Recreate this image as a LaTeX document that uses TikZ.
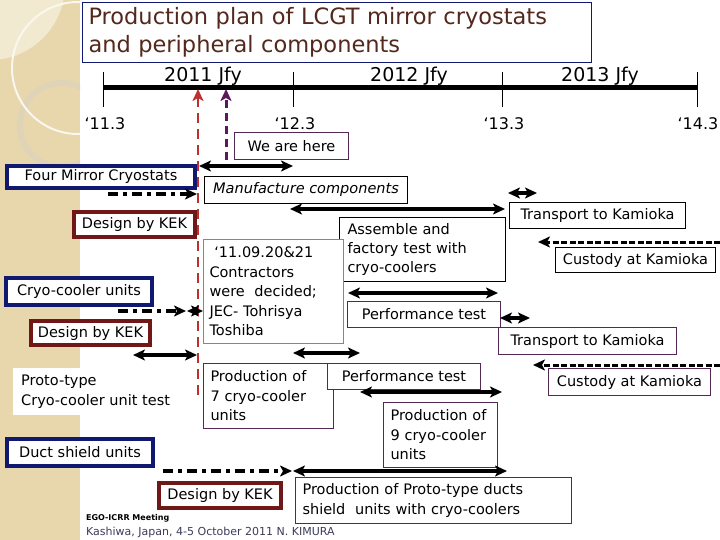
\documentclass[tikz,border=0pt]{standalone}
\usepackage{fontspec}
\setmainfont{DejaVu Sans}
\usetikzlibrary{arrows.meta}
\definecolor{SysBlue}{RGB}{16,24,112}
\definecolor{KekRed}{RGB}{112,24,24}
\definecolor{TaskPurple}{RGB}{84,40,84}
\definecolor{DealRed}{RGB}{204,104,104}
\definecolor{NowRed}{RGB}{190,48,48}
\definecolor{NowPurple}{RGB}{92,24,92}
\definecolor{TitleBrown}{RGB}{84,40,28}
\definecolor{FootGray}{RGB}{60,60,90}
\definecolor{Beige}{RGB}{232,214,172}
\definecolor{RingBeige}{RGB}{224,212,184}
\newcommand{\titlefont}{\fontsize{22.5}{28}\selectfont}
\newcommand{\yearfont}{\fontsize{19}{23}\selectfont}
\newcommand{\tickfont}{\fontsize{16}{19}\selectfont}
\newcommand{\planfont}{\fontsize{14.5}{19.5}\selectfont}
\newcommand{\footfont}{\fontsize{11}{13}\selectfont}
\newcommand{\meetfont}{\bfseries\fontsize{8}{10}\selectfont}
\tikzset{
  sysbox/.style={draw=SysBlue, line width=4pt, fill=white, anchor=north west, inner xsep=6pt, inner ysep=0pt, font=\planfont},
  kekbox/.style={sysbox, draw=KekRed},
  taskbox/.style={draw=TaskPurple, line width=1pt, fill=white, anchor=north west, inner xsep=7pt, inner ysep=0pt, align=left, font=\planfont},
  notebox/.style={taskbox, draw=black},
  span/.style={<->, line width=3.5pt},
  design/.style={->, line width=3.5pt, dash pattern=on 10pt off 5pt on 4pt off 5pt},
  custody/.style={->, line width=3pt, dash pattern=on 6pt off 2.5pt},
}

\begin{document}
\begin{tikzpicture}[x=1pt, y=-1pt, >={Stealth[length=12pt,width=11pt,inset=3pt]}]
  \useasboundingbox (0,0) rectangle (720,540);
  % Side band
  \fill[Beige] (0,0) rectangle (80,540);
  \begin{scope}
    \clip (0,0) rectangle (80,540);
    \fill[Beige!55!white] (-10,-15) circle (75pt);
    \draw[RingBeige, line width=6pt] (62,125) circle (42pt);
    \draw[Beige!20!white, line width=2pt] (78,68) circle (66pt);
  \end{scope}
  % Title
  \node[anchor=north west, draw=SysBlue, line width=1pt, fill=white, minimum width=509pt, minimum height=60pt,
        text width=497pt, inner xsep=6pt, align=left, font=\titlefont, text=TitleBrown] (title) at (82,2)
        {Production plan of LCGT mirror cryostats\\and peripheral components};
  % Time axis
  \foreach \n/\x in {t11/103, t12/293, t13/502, t14/697} {
    \coordinate (\n) at (\x,88);
    \draw[line width=1pt] (\x,72) -- (\x,107);
  }
  \draw[line width=5pt] (t11) -- (t14);
  \node[font=\yearfont, anchor=base] (y11) at (203,82) {2011 Jfy};
  \node[font=\yearfont, anchor=base] (y12) at (409,82) {2012 Jfy};
  \node[font=\yearfont, anchor=base] (y13) at (600,82) {2013 Jfy};
  \node[font=\tickfont, anchor=base] (l11) at (105,130) {‘11.3};
  \node[font=\tickfont, anchor=base] (l12) at (295,130) {‘12.3};
  \node[font=\tickfont, anchor=base] (l13) at (504,130) {‘13.3};
  \node[font=\tickfont, anchor=base] (l14) at (698,130) {‘14.3};
  % Markers
  \coordinate (deal-foot) at (198,395);
  \coordinate (deal-tip) at (198,89);
  \draw[NowRed, line width=2.5pt, dash pattern=on 10pt off 6pt, ->] (deal-foot) -- (deal-tip);
  \coordinate (here-foot) at (226,160);
  \coordinate (here-tip) at (226,89);
  \draw[NowPurple, line width=3pt, dash pattern=on 8pt off 5pt, ->] (here-foot) -- (here-tip);
  \node[taskbox, minimum width=114pt, minimum height=27pt] (here) at (234,132) {We are here};
  % Mirror cryostats
  \node[sysbox, minimum width=188pt, minimum height=22pt] (cryostats) at (5,164) {Four Mirror Cryostats};
  \node[notebox, minimum width=203pt, minimum height=27pt, font=\planfont\itshape] (mfg) at (204,176) {Manufacture components};
  \node[kekbox, minimum width=121pt, minimum height=25pt] (kek1) at (72,210) {Design by KEK};
  \node[notebox, minimum width=176pt, minimum height=26pt] (trans1) at (509,202) {Transport to Kamioka};
  \node[notebox, minimum width=166pt, minimum height=64pt, text width=150pt] (assy) at (339,217)
       {Assemble and\\factory test with\\cryo-coolers};
  \node[taskbox, draw=DealRed, minimum width=140pt, minimum height=104pt, text width=128pt, inner xsep=6pt] (deal) at (203,239)
       {\ ‘11.09.20\&21\\Contractors\\were\ \ decided;\\JEC- Tohrisya\\Toshiba};
  \node[notebox, minimum width=160pt, minimum height=25pt] (cust1) at (555,247) {Custody at Kamioka};
  % Cryo-cooler units
  \node[sysbox, minimum width=146pt, minimum height=27pt] (coolers) at (4,276) {Cryo-cooler units};
  \node[kekbox, minimum width=119pt, minimum height=24pt] (kek2) at (29,319) {Design by KEK};
  \node[taskbox, minimum width=153pt, minimum height=26pt] (perf1) at (347,301) {Performance test};
  \node[taskbox, minimum width=178pt, minimum height=27pt] (trans2) at (498,327) {Transport to Kamioka};
  \node[anchor=north west, fill=white, minimum height=47pt, inner xsep=8pt, inner ysep=0pt, align=left, font=\planfont] (proto) at (13,368)
       {Proto-type\\Cryo-cooler unit test};
  \node[taskbox, minimum width=130pt, minimum height=65pt, text width=116pt] (prod7) at (203,363)
       {Production of\\7 cryo-cooler\\units};
  \node[taskbox, minimum width=153pt, minimum height=26pt] (perf2) at (327,363) {Performance test};
  \node[taskbox, minimum width=162pt, minimum height=27pt] (cust2) at (548,368) {Custody at Kamioka};
  \node[taskbox, minimum width=114pt, minimum height=65pt, text width=100pt] (prod9) at (383,402)
       {Production of\\9 cryo-cooler\\units};
  % Duct shield units
  \node[sysbox, minimum width=146pt, minimum height=27pt] (ducts) at (5,437) {Duct shield units};
  \node[kekbox, minimum width=122pt, minimum height=25pt] (kek3) at (157,481) {Design by KEK};
  \node[taskbox, minimum width=276pt, minimum height=46pt, text width=262pt] (ductprod) at (295,477)
       {Production of Proto-type ducts\\shield\ \ units with cryo-coolers};
  % Spans
  \foreach \n/\a/\b/\y in {mf/199/293/166, as/290/505/209, tr1/508/537/193, pf1/348/498/293, tr2/500/530/318,
                           pt/133/197/355, pr7/293/360/353, pf2/360/502/392, du/293/507/471, st/187/203/311} {
    \coordinate (\n-l) at (\a,\y);
    \coordinate (\n-r) at (\b,\y);
    \draw[span] (\n-l) -- (\n-r);
  }
  % Design phases
  \foreach \n/\a/\b/\y in {dg1/108/197/194, dg2/118/186/311, dg3/163/292/471} {
    \coordinate (\n-l) at (\a,\y);
    \coordinate (\n-r) at (\b,\y);
    \draw[design] (\n-l) -- (\n-r);
  }
  % Custody
  \foreach \n/\a/\y in {cu1/538/242, cu2/533/365} {
    \coordinate (\n-l) at (\a,\y);
    \coordinate (\n-r) at (720,\y);
    \draw[custody] (\n-r) -- (\n-l);
  }
  % Footer
  \node[anchor=base west, inner sep=0pt, font=\meetfont] (meeting) at (86,520) {EGO-ICRR Meeting};
  \node[anchor=base west, inner sep=0pt, font=\footfont, text=FootGray] (venue) at (86,535) {Kashiwa, Japan, 4-5 October 2011 N. KIMURA};
\end{tikzpicture}
\end{document}
